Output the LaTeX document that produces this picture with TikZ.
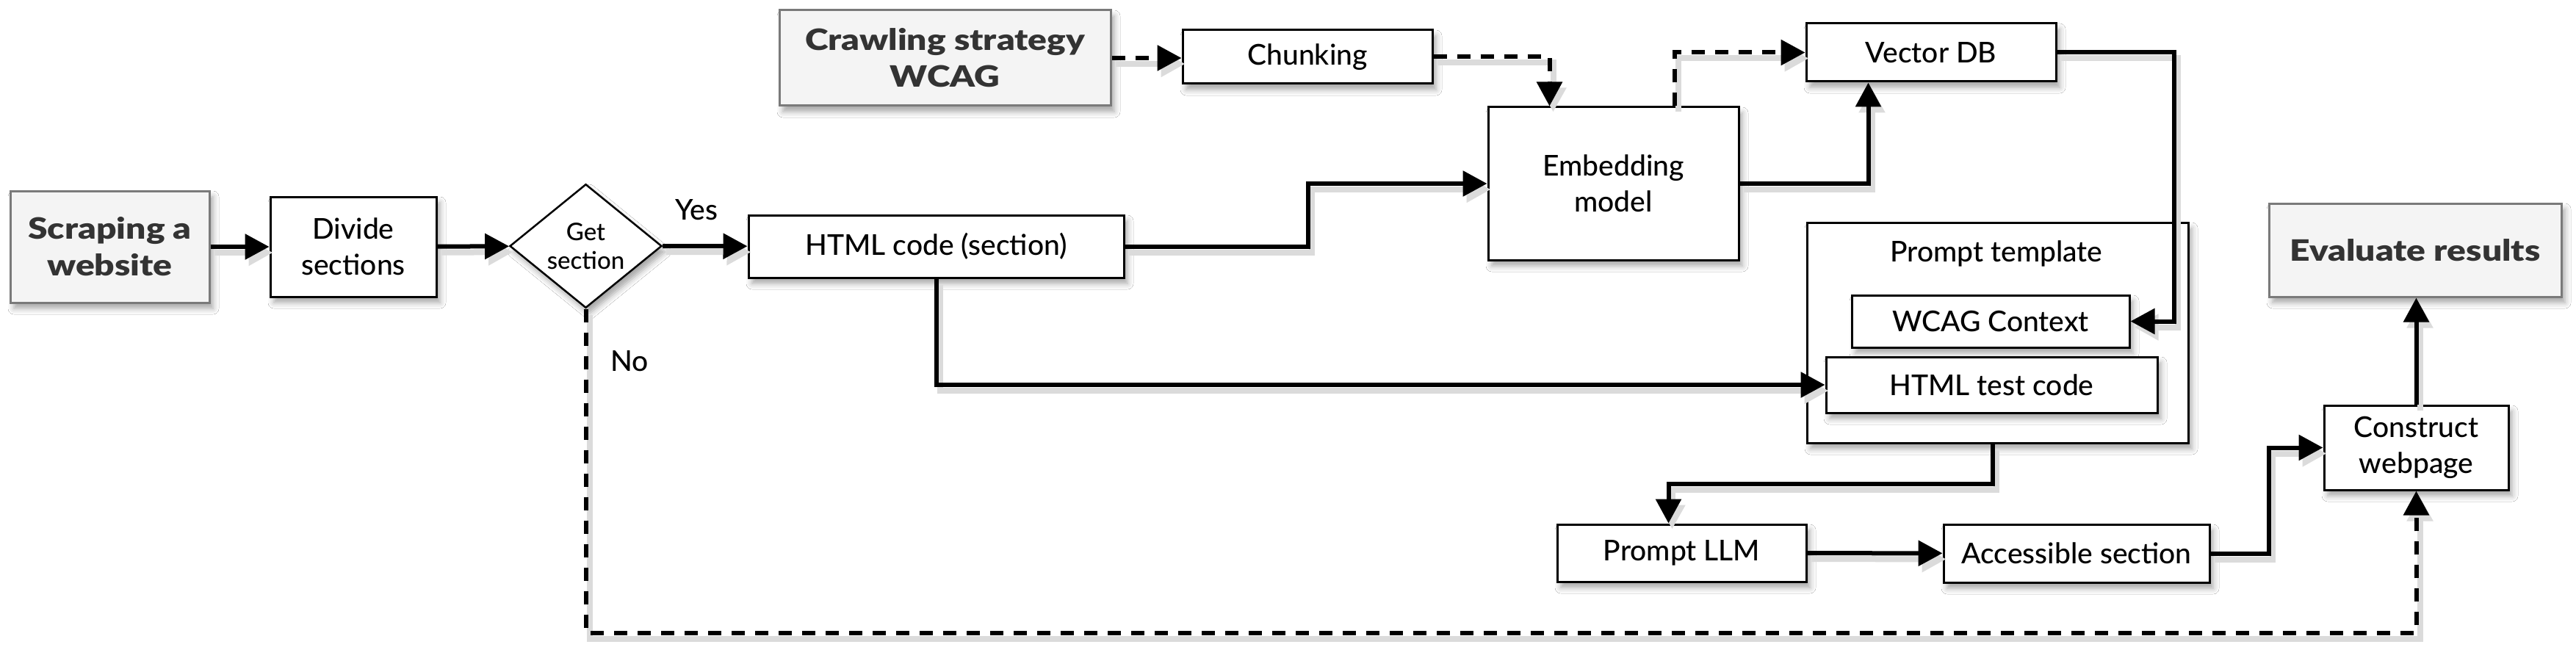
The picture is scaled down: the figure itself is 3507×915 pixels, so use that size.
\documentclass[tikz,border=0pt]{standalone}
\usepackage{fontspec}
\IfFontExistsTF{Lato Medium}{\setmainfont{Lato Medium}}{\setmainfont{Lato}}
\IfFontExistsTF{Lato Black}{\newfontfamily\heavyfont{Lato Black}[FakeStretch=1.2]}{\newfontfamily\heavyfont{Lato}[UprightFont=*, UprightFeatures={FakeBold=2}, FakeStretch=1.2]}
\usetikzlibrary{arrows.meta,shapes.geometric,shadows.blur}
\definecolor{gfill}{HTML}{F4F4F4}
\definecolor{gline}{HTML}{7A7A7A}
\definecolor{gtext}{HTML}{333333}
\tikzset{
  sh/.style={blur shadow={shadow xshift=5pt, shadow yshift=-8pt, shadow blur radius=8pt, shadow opacity=35}},
  box/.style={draw=black, line width=3pt, fill=white, inner sep=0pt, align=center,
              font=\fontsize{39}{49}\selectfont, sh},
  gbox/.style={box, draw=gline, fill=gfill, text=gtext, font=\fontsize{40}{50}\heavyfont},
  decision/.style={draw=black, diamond, line width=2.5pt, fill=white, inner sep=0pt, align=center,
              font=\fontsize{33}{39}\selectfont, sh},
  lbl/.style={font=\fontsize{39}{46}\selectfont},
  lsh/.style={preaction={draw=black!14, line width=8pt, transform canvas={xshift=5pt,yshift=-8pt}}},
  conn/.style={lsh, draw=black, line width=6pt, -{Triangle[length=33pt,width=34pt]}},
  dconn/.style={conn, dash pattern=on 18pt off 14pt},
}
\begin{document}
\begin{tikzpicture}[x=1pt,y=-1pt]
\useasboundingbox (0,0) rectangle (3507,915);
\fill[white] (0,0) rectangle (3507,915);
% nodes
\node[gbox, minimum width=271pt, minimum height=152pt] (scrape) at (149.5,336) {Scraping a\\website};
\node[box, minimum width=226pt, minimum height=136pt] (divide) at (481,336) {Divide\\sections};
\node[decision, minimum width=207pt, minimum height=164pt] (get) at (797.5,335) {Get\\section};
\node[box, minimum width=511pt, minimum height=85pt] (html) at (1274.5,335.5) {HTML code (section)};
\node[gbox, minimum width=451pt, minimum height=130pt] (crawl) at (1286.5,79) {Crawling strategy\\WCAG};
\node[box, minimum width=340pt, minimum height=73pt] (chunk) at (1780,77.5) {Chunking};
\node[box, minimum width=341pt, minimum height=208pt] (embed) at (2196.5,250) {Embedding\\model};
\node[box, minimum width=340pt, minimum height=79pt] (vdb) at (2629,71.5) {Vector DB};
\node[box, minimum width=519pt, minimum height=300pt] (ptemp) at (2719.5,453) {};
\node[lbl] (ptlabel) at (2718,345) {Prompt template};
\node[box, minimum width=378pt, minimum height=71pt] (wcag) at (2710,437.5) {WCAG Context};
\node[box, minimum width=451pt, minimum height=76pt] (htest) at (2711.5,524) {HTML test code};
\node[gbox, minimum width=398pt, minimum height=127pt] (eval) at (3288,340.5) {Evaluate results};
\node[box, minimum width=251pt, minimum height=115pt] (construct) at (3289.5,609.5) {Construct\\webpage};
\node[box, minimum width=339pt, minimum height=78pt] (llm) at (2289.5,753) {Prompt LLM};
\node[box, minimum width=362pt, minimum height=79pt] (access) at (2827,753.5) {Accessible section};
\node[lbl] (yes) at (948,286) {Yes};
\node[lbl] (no) at (857,492) {No};
\coordinate (lowrow) at (0,862);
% connectors
\draw[conn] (scrape) -- (divide);
\draw[conn] (divide) -- (get);
\draw[conn] (get) -- (html);
\draw[dconn] (get.south) |- (lowrow -| construct.south) -- (construct.south);
\draw[dconn] (crawl.east) -- (crawl.east -| chunk.west);
\draw[dconn] (chunk.east) -| ([xshift=85pt]embed.north west);
\draw[dconn] ([xshift=255pt]embed.north west) |- (vdb.west);
\draw[conn] (embed.east) -| ([xshift=86pt]vdb.south west);
\draw[conn] (html.east) -- ++(249,0) |- (embed.west);
\draw[conn] (vdb.east) -- ++(159,0) |- (wcag.east);
\draw[conn] (html.south) |- (htest.west);
\draw[conn] ([xshift=-7pt]ptemp.south) -- ++(0,54) -| ([xshift=-18pt]llm.north);
\draw[conn] (llm) -- (access);
\draw[conn] (access.east) -- ++(79,0) |- (construct.west);
\draw[conn] (construct.north) -- (construct.north |- eval.south);
\end{tikzpicture}
\end{document}
